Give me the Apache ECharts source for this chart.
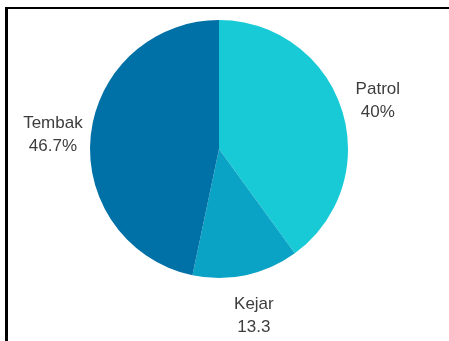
<!DOCTYPE html>
<html>
<head>
<meta charset="utf-8">
<script src="https://cdn.jsdelivr.net/npm/echarts@6/dist/echarts.min.js"></script>
<style>
html,body{margin:0;padding:0;background:#fff;overflow:hidden;width:449px;height:341px;}
#topline{position:absolute;left:5px;top:6.5px;width:444px;height:2.5px;background:#000;z-index:2;}
#leftline{position:absolute;left:5px;top:6.5px;width:2.5px;height:335px;background:#000;z-index:2;}
#chart{position:absolute;left:0;top:0;width:449px;height:341px;}
</style>
</head>
<body>
<div id="chart"></div>
<div id="topline"></div>
<div id="leftline"></div>
<script>
const categories = ['Patrol', 'Kejar', 'Tembak'];
const values = [40, 13.3, 46.7];
const valueLabels = ['40%', '13.3', '46.7%'];
const colors = ['#17CAD6', '#0AA2C5', '#0071A7'];

const chart = echarts.init(document.getElementById('chart'), null, {renderer: 'canvas'});
const option = {
  animation: false,
  backgroundColor: '#fff',
  series: [{
    type: 'pie',
    center: [219, 149],
    radius: 129,
    startAngle: 90,
    clockwise: true,
    avoidLabelOverlap: false,
    data: categories.map((c, i) => ({name: c, value: values[i], itemStyle: {color: colors[i]}})),
    label: {
      show: true,
      position: 'outside',
      overflow: 'none',
      formatter: p => p.name + '\n' + valueLabels[p.dataIndex],
      fontFamily: 'Liberation Sans, Arial, sans-serif',
      fontSize: 17,
      lineHeight: 23,
      color: '#3d3d3d'
    },
    labelLine: {
      show: true,
      length: 38,
      length2: 0,
      lineStyle: {opacity: 0, width: 0}
    },
    labelLayout: function (params) {
      const pts = params.labelLinePoints;
      if (!pts) return {};
      return {x: pts[1][0], y: pts[1][1] + 3, align: 'center', verticalAlign: 'middle'};
    },
    emphasis: {disabled: true}
  }]
};
chart.setOption(option);
</script>
</body>
</html>
